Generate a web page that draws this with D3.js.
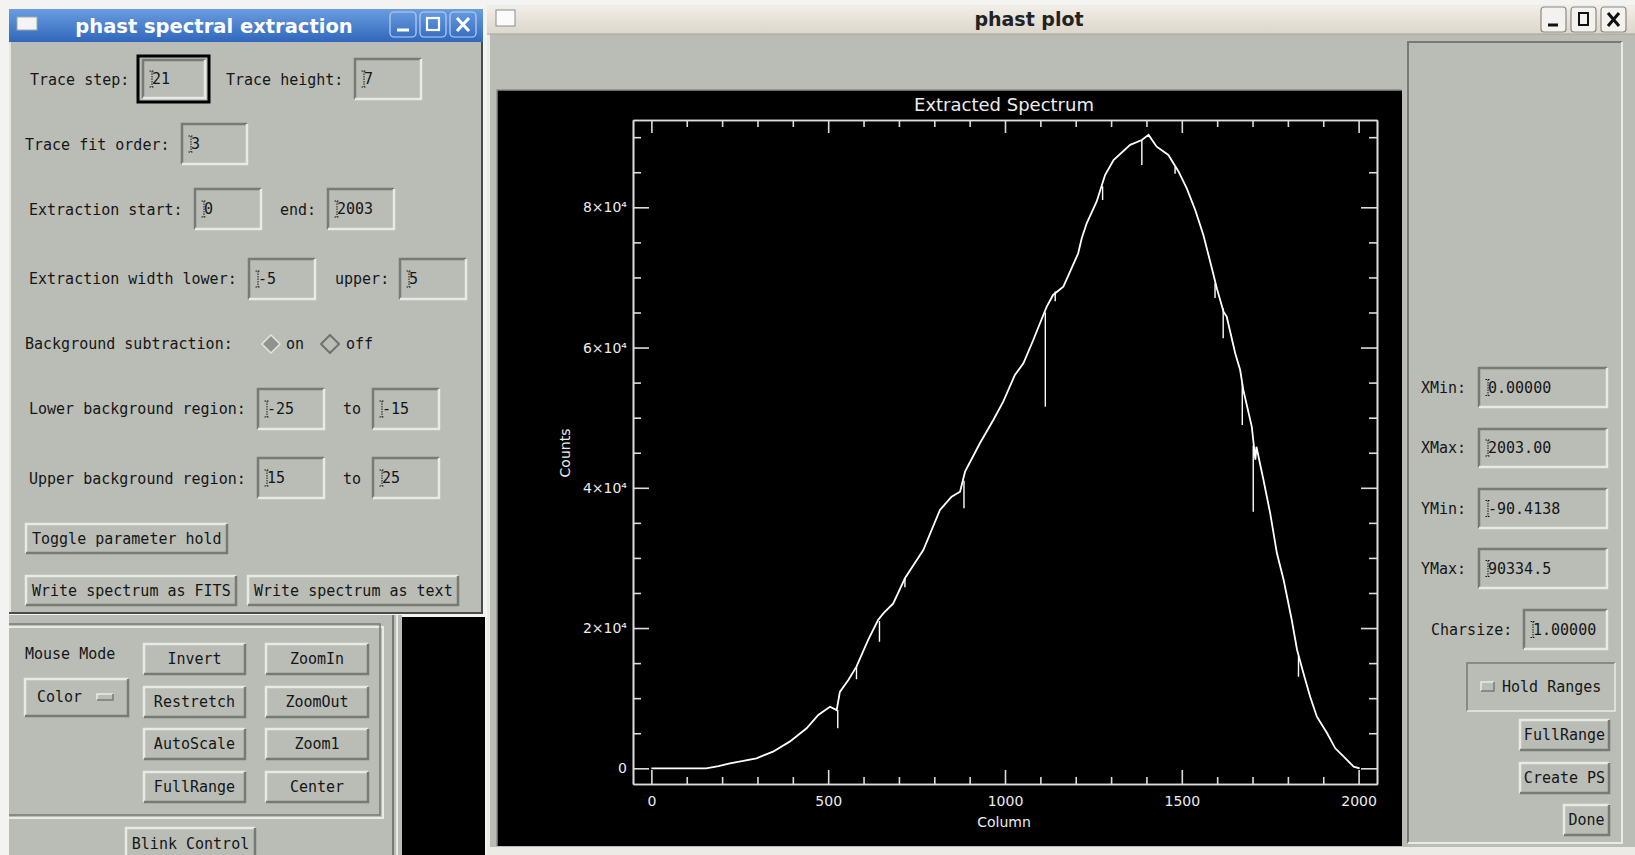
<!DOCTYPE html>
<html>
  <head>
    <meta charset="UTF-8">
    <script src="https://d3js.org/d3.v7.min.js" charset="utf-8"></script>
    <title>phast spectral extraction</title>
    <style>
      html, body { margin: 0; padding: 0; background: #f2f2f0; overflow: hidden; }
      text { font-family: "DejaVu Sans Mono", "Liberation Mono", monospace; }
      .gui { font-size: 15px; fill: #161616; }
      .idl { font-family: "DejaVu Sans", "Liberation Sans", sans-serif; fill: #ececec; }
    </style>
  </head>
  <body>
    <svg id="shot"></svg>
    <script type="text/javascript">

      // spectrum (column, counts)
      var columns = [0, 50, 100, 155, 190, 222, 260, 297, 344, 391,
                     439, 472, 505, 524, 533, 557, 580, 613, 641, 656,
                     684, 717, 769, 816, 849, 873, 887, 929, 967, 995,
                     1028, 1052, 1080, 1099, 1118, 1136, 1165, 1184, 1207, 1217,
                     1231, 1259, 1283, 1307, 1354, 1387, 1406, 1429, 1462, 1491,
                     1514, 1538, 1561, 1585, 1599, 1618, 1627, 1651, 1665, 1674,
                     1698, 1708, 1711, 1731, 1750, 1769, 1788, 1811, 1826, 1844,
                     1863, 1882, 1911, 1934, 1958, 1986, 2003];
      var counts = [0, 0, 0, 0, 300, 710, 1050, 1430, 2370, 3800,
                    5700, 7600, 8780, 8300, 10900, 12600, 14500, 18300, 21150, 22100,
                    23500, 27100, 31130, 36830, 38730, 39450, 42300, 46350, 49670, 52280,
                    56090, 57750, 61080, 63460, 65830, 67500, 68680, 70820, 73440, 75580,
                    77720, 80800, 84600, 86750, 88900, 89600, 90330, 88640, 87460, 85080,
                    82710, 79620, 76050, 71300, 68450, 65120, 64400, 59180, 56800, 53950,
                    48700, 44000, 45860, 41110, 36360, 30660, 26850, 21150, 16870, 13550,
                    10210, 7360, 4990, 2850, 1650, 230, 0];

      // absorption dips: column, level of the curve, bottom of the dip
      var dipColumns = [527, 580, 645, 717, 884, 1114, 1142, 1276, 1387, 1481, 1594, 1617, 1671, 1702, 1830];
      var dipTops    = [8300, 14500, 21000, 27100, 41000, 65000, 68000, 83000, 89600, 85790, 69160, 65600, 55000, 46000, 16000];
      var dipBottoms = [5700, 12700, 18050, 25800, 37080, 51570, 66600, 81040, 86030, 84800, 67060, 61320, 48960, 36600, 13060];

      var xTickValues = [0, 500, 1000, 1500, 2000];
      var xTickLabels = ["0", "500", "1000", "1500", "2000"];
      var xMinorValues = [100, 200, 300, 400, 600, 700, 800, 900, 1100, 1200, 1300, 1400, 1600, 1700, 1800, 1900];
      var yTickValues = [0, 20000, 40000, 60000, 80000];
      var yTickLabels = ["0", "2×10⁴", "4×10⁴", "6×10⁴", "8×10⁴"];
      var yMinorValues = [5000, 10000, 15000, 25000, 30000, 35000, 45000, 50000, 55000, 65000, 70000, 75000, 85000, 90000];

      var width = 1635,
          height = 855,
          gray = "#b9bdb6",
          light = "#e8eae6",
          dark = "#777b75",
          ink = "#161616";

      var svg = d3.select("#shot")
          .attr("width", width)
          .attr("height", height);

      var defs = svg.append("defs");
      var blue = defs.append("linearGradient").attr("id", "blue").attr("x1", 0).attr("y1", 0).attr("x2", 0).attr("y2", 1);
      blue.append("stop").attr("offset", 0).attr("stop-color", "#6a9de0");
      blue.append("stop").attr("offset", 1).attr("stop-color", "#3067bb");
      var beige = defs.append("linearGradient").attr("id", "beige").attr("x1", 0).attr("y1", 0).attr("x2", 0).attr("y2", 1);
      beige.append("stop").attr("offset", 0).attr("stop-color", "#f1eee8");
      beige.append("stop").attr("offset", 1).attr("stop-color", "#dcd6cb");

      svg.append("rect").attr("width", width).attr("height", height).attr("fill", "#f3f3f1");

      function bevel(g, x, y, w, h, raised, bw) {
        bw = bw || 2;
        g.append("rect").attr("x", x).attr("y", y).attr("width", w).attr("height", h).attr("fill", gray);
        g.append("path").attr("d", "M" + x + "," + (y + h) + "V" + y + "H" + (x + w))
          .attr("fill", "none").attr("stroke", raised ? light : dark).attr("stroke-width", bw);
        g.append("path").attr("d", "M" + x + "," + (y + h) + "H" + (x + w) + "V" + y)
          .attr("fill", "none").attr("stroke", raised ? dark : light).attr("stroke-width", bw);
      }

      function label(g, x, y, s, anchor) {
        g.append("text").attr("class", "gui").attr("x", x).attr("y", y).attr("dy", "0.35em")
          .attr("text-anchor", anchor || "start").text(s);
      }

      function field(g, x, y, w, h, value) {
        bevel(g, x, y, w, h, false, 2.5);
        var cx = x + 9, cy = y + h / 2;
        g.append("path").attr("d", "M" + (cx - 2.5) + "," + (cy - 8) + "H" + (cx + 2.5) + "M" + cx + "," + (cy - 8) +
            "V" + (cy + 8) + "M" + (cx - 2.5) + "," + (cy + 8) + "H" + (cx + 2.5))
          .attr("stroke", ink).attr("stroke-width", 1).attr("stroke-dasharray", "1.5,1").attr("fill", "none");
        label(g, cx, cy, value);
      }

      function button(g, x, y, w, h, s, centred) {
        bevel(g, x, y, w, h, true, 2.5);
        if (centred) label(g, x + w / 2, y + h / 2, s, "middle");
        else label(g, x + 6, y + h / 2, s);
      }

      // ---- left window: phast spectral extraction ----
      var left = svg.append("g");
      left.append("rect").attr("x", 9).attr("y", 42).attr("width", 474).attr("height", 571).attr("fill", gray);
      left.append("path").attr("d", "M10,613V42").attr("stroke", "#e4e6e2").attr("stroke-width", 2);
      left.append("path").attr("d", "M482,42V613H9").attr("stroke", "#4a4c49").attr("stroke-width", 2).attr("fill", "none");
      left.append("rect").attr("x", 9).attr("y", 9).attr("width", 474).attr("height", 33).attr("fill", "url(#blue)");
      left.append("rect").attr("x", 17).attr("y", 17).attr("width", 20).attr("height", 13).attr("fill", "#f4f4f4").attr("stroke", "#99aaaa").attr("stroke-width", 1);
      left.append("text").attr("x", 214).attr("y", 26).attr("dy", "0.35em").attr("text-anchor", "middle")
        .style("font-family", "'DejaVu Sans', sans-serif").style("font-weight", "bold").style("font-size", "19.5px")
        .attr("fill", "#ffffff").text("phast spectral extraction");
      [390, 420, 450].forEach(function(bx, i) {
        left.append("rect").attr("x", bx).attr("y", 12).attr("width", 26).attr("height", 25).attr("rx", 4)
          .attr("fill", "none").attr("stroke", "#b8d0f2").attr("stroke-width", 1.2);
        var gl = left.append("g").attr("stroke", "#ffffff").attr("fill", "none").attr("stroke-width", 3);
        if (i === 0) gl.append("path").attr("d", "M" + (bx + 7) + ",30H" + (bx + 19));
        if (i === 1) gl.append("rect").attr("x", bx + 7).attr("y", 18).attr("width", 12).attr("height", 12).attr("stroke-width", 2.2);
        if (i === 2) gl.append("path").attr("d", "M" + (bx + 7) + ",18L" + (bx + 19) + ",31M" + (bx + 19) + ",18L" + (bx + 7) + ",31");
      });

      left.append("rect").attr("x", 138).attr("y", 56).attr("width", 71).attr("height", 46)
        .attr("fill", "none").attr("stroke", "#000").attr("stroke-width", 3);
      label(left, 30, 80, "Trace step:");
      field(left, 143, 60, 62, 38, "21");
      label(left, 226, 80, "Trace height:");
      field(left, 355, 59, 66, 40, "7");
      label(left, 25, 145, "Trace fit order:");
      field(left, 182, 124, 65, 40, "3");
      label(left, 29, 210, "Extraction start:");
      field(left, 195, 189, 66, 40, "0");
      label(left, 280, 210, "end:");
      field(left, 328, 189, 66, 40, "2003");
      label(left, 29, 279, "Extraction width lower:");
      field(left, 249, 259, 66, 40, "-5");
      label(left, 335, 279, "upper:");
      field(left, 400, 259, 66, 40, "5");

      label(left, 25, 344, "Background subtraction:");
      left.append("path").attr("d", "M271,335L280,344L271,353L262,344Z").attr("fill", "#8f938c").attr("stroke", "#e2e4e0").attr("stroke-width", 1.5);
      label(left, 286, 344, "on");
      left.append("path").attr("d", "M330,335L339,344L330,353L321,344Z").attr("fill", gray).attr("stroke", "#6f736d").attr("stroke-width", 2);
      label(left, 346, 344, "off");

      label(left, 29, 409, "Lower background region:");
      field(left, 258, 389, 66, 40, "-25");
      label(left, 343, 409, "to");
      field(left, 373, 389, 66, 40, "-15");
      label(left, 29, 479, "Upper background region:");
      field(left, 258, 458, 66, 40, "15");
      label(left, 343, 479, "to");
      field(left, 373, 458, 66, 40, "25");

      button(left, 26, 524, 201, 29, "Toggle parameter hold");
      button(left, 26, 576, 210, 29, "Write spectrum as FITS");
      button(left, 248, 576, 210, 29, "Write spectrum as text");

      // ---- partly hidden main window below ----
      var low = svg.append("g");
      low.append("rect").attr("x", 9).attr("y", 615).attr("width", 393).attr("height", 240).attr("fill", gray);
      low.append("rect").attr("x", 402).attr("y", 617).attr("width", 83).attr("height", 238).attr("fill", "#000");
      low.append("path").attr("d", "M393,615V855").attr("stroke", dark).attr("stroke-width", 2);
      low.append("path").attr("d", "M397,615V855").attr("stroke", light).attr("stroke-width", 2);
      low.append("path").attr("d", "M9,627H383V818H9").attr("fill", "none").attr("stroke", light).attr("stroke-width", 2);
      low.append("path").attr("d", "M9,624H380V815H9").attr("fill", "none").attr("stroke", dark).attr("stroke-width", 1.5);
      label(low, 25, 654, "Mouse Mode");
      bevel(low, 25, 679, 103, 37, true, 2.5);
      label(low, 37, 697, "Color");
      bevel(low, 97, 694, 16, 6, true, 1.5);
      button(low, 144, 644, 101, 30, "Invert", true);
      button(low, 266, 644, 102, 30, "ZoomIn", true);
      button(low, 144, 687, 101, 30, "Restretch", true);
      button(low, 266, 687, 102, 30, "ZoomOut", true);
      button(low, 144, 729, 101, 30, "AutoScale", true);
      button(low, 266, 729, 102, 30, "Zoom1", true);
      button(low, 144, 772, 101, 30, "FullRange", true);
      button(low, 266, 772, 102, 30, "Center", true);
      button(low, 126, 828, 129, 32, "Blink Control", true);

      // ---- right window: phast plot ----
      var win = svg.append("g");
      win.append("rect").attr("x", 487).attr("y", 5).attr("width", 1148).attr("height", 850).attr("fill", "#ecebe6");
      win.append("rect").attr("x", 490).attr("y", 34).attr("width", 1145).attr("height", 813).attr("fill", gray);
      win.append("rect").attr("x", 487).attr("y", 6).attr("width", 1148).attr("height", 28).attr("fill", "url(#beige)");
      win.append("path").attr("d", "M487,34H1635").attr("stroke", "#a8a498").attr("stroke-width", 1);
      win.append("rect").attr("x", 496).attr("y", 10).attr("width", 19).attr("height", 16).attr("fill", "#fbfbfb").attr("stroke", "#8c8c8c");
      win.append("text").attr("x", 1029).attr("y", 19).attr("dy", "0.35em").attr("text-anchor", "middle")
        .style("font-family", "'DejaVu Sans', sans-serif").style("font-weight", "bold").style("font-size", "19px")
        .attr("fill", "#222").text("phast plot");
      [1541, 1571, 1601].forEach(function(bx, i) {
        win.append("rect").attr("x", bx).attr("y", 7).attr("width", 25).attr("height", 25).attr("rx", 3)
          .attr("fill", "#f4f2ee").attr("stroke", "#8d897f").attr("stroke-width", 1.2);
        var gl = win.append("g").attr("stroke", "#111").attr("fill", "none").attr("stroke-width", 3);
        if (i === 0) gl.append("path").attr("d", "M" + (bx + 7) + ",25H" + (bx + 17));
        if (i === 1) gl.append("rect").attr("x", bx + 8).attr("y", 13).attr("width", 9).attr("height", 12).attr("stroke-width", 2);
        if (i === 2) gl.append("path").attr("d", "M" + (bx + 7) + ",13L" + (bx + 18) + ",26M" + (bx + 18) + ",13L" + (bx + 7) + ",26");
      });

      // right control panel
      var side = svg.append("g");
      side.append("path").attr("d", "M1408,843V42H1622").attr("fill", "none").attr("stroke", dark).attr("stroke-width", 2);
      side.append("path").attr("d", "M1408,843H1622V42").attr("fill", "none").attr("stroke", light).attr("stroke-width", 2);
      label(side, 1421, 388, "XMin:");
      field(side, 1479, 368, 128, 39, "0.00000");
      label(side, 1421, 448, "XMax:");
      field(side, 1479, 429, 128, 38, "2003.00");
      label(side, 1421, 509, "YMin:");
      field(side, 1479, 489, 128, 39, "-90.4138");
      label(side, 1421, 569, "YMax:");
      field(side, 1479, 549, 128, 39, "90334.5");
      label(side, 1431, 630, "Charsize:");
      field(side, 1524, 610, 83, 39, "1.00000");
      side.append("path").attr("d", "M1467,711V663H1615").attr("fill", "none").attr("stroke", dark).attr("stroke-width", 1.5);
      side.append("path").attr("d", "M1467,711H1615V663").attr("fill", "none").attr("stroke", light).attr("stroke-width", 1.5);
      bevel(side, 1481, 682, 13, 9, true, 1.5);
      label(side, 1502, 687, "Hold Ranges");
      button(side, 1520, 720, 89, 30, "FullRange", true);
      button(side, 1520, 763, 89, 30, "Create PS", true);
      button(side, 1564, 805, 45, 30, "Done", true);

      // ---- the IDL plot ----
      svg.append("rect").attr("x", 497).attr("y", 90).attr("width", 905).attr("height", 756).attr("fill", "#000");
      svg.append("path").attr("d", "M497,846V90H1402").attr("fill", "none").attr("stroke", "#8a8d88").attr("stroke-width", 1.5);

      var x = d3.scaleLinear().domain([-52, 2052]).range([633, 1377]);
      var y = d3.scaleLinear().domain([-2240, 92450]).range([784, 120]);

      var plot = svg.append("g");

      function styleAxis(g) {
        g.selectAll(".domain").attr("stroke", "#dcdcdc").attr("stroke-width", 1.6);
        g.selectAll(".tick line").attr("stroke", "#dcdcdc").attr("stroke-width", 1.6);
        g.selectAll(".tick text").attr("class", "idl").style("font-size", "14px").attr("fill", "#ececec");
      }

      plot.append("g").attr("transform", "translate(0,784)")
        .call(d3.axisBottom(x).tickValues(xTickValues).tickSize(-14).tickSizeOuter(0).tickPadding(12)
          .tickFormat(function(d, i) { return xTickLabels[i]; }))
        .call(styleAxis);
      plot.append("g").attr("transform", "translate(0,784)")
        .call(d3.axisBottom(x).tickValues(xMinorValues).tickSize(-7).tickSizeOuter(0).tickFormat(""))
        .call(styleAxis);
      plot.append("g").attr("transform", "translate(0,120)")
        .call(d3.axisTop(x).tickValues(xTickValues).tickSize(-13).tickSizeOuter(0).tickFormat(""))
        .call(styleAxis);
      plot.append("g").attr("transform", "translate(0,120)")
        .call(d3.axisTop(x).tickValues(xMinorValues).tickSize(-7).tickSizeOuter(0).tickFormat(""))
        .call(styleAxis);
      plot.append("g").attr("transform", "translate(633,0)")
        .call(d3.axisLeft(y).tickValues(yTickValues).tickSize(-16).tickSizeOuter(0).tickPadding(6)
          .tickFormat(function(d, i) { return yTickLabels[i]; }))
        .call(styleAxis);
      plot.append("g").attr("transform", "translate(633,0)")
        .call(d3.axisLeft(y).tickValues(yMinorValues).tickSize(-8).tickSizeOuter(0).tickFormat(""))
        .call(styleAxis);
      plot.append("g").attr("transform", "translate(1377,0)")
        .call(d3.axisRight(y).tickValues(yTickValues).tickSize(-16).tickSizeOuter(0).tickFormat(""))
        .call(styleAxis);
      plot.append("g").attr("transform", "translate(1377,0)")
        .call(d3.axisRight(y).tickValues(yMinorValues).tickSize(-8).tickSizeOuter(0).tickFormat(""))
        .call(styleAxis);

      plot.append("text").attr("class", "idl").attr("x", 1004).attr("y", 105).attr("dy", "0.35em")
        .attr("text-anchor", "middle").style("font-size", "18px").text("Extracted Spectrum");
      plot.append("text").attr("class", "idl").attr("x", 1004).attr("y", 822).attr("dy", "0.35em")
        .attr("text-anchor", "middle").style("font-size", "14px").text("Column");
      plot.append("text").attr("class", "idl").attr("transform", "translate(565,453) rotate(-90)").attr("dy", "0.35em")
        .attr("text-anchor", "middle").style("font-size", "14px").text("Counts");

      var line = d3.line()
          .x(function(d) { return x(d[0]); })
          .y(function(d) { return y(d[1]); });

      plot.append("path")
        .datum(d3.zip(columns, counts))
        .attr("d", line)
        .attr("fill", "none")
        .attr("stroke", "#ffffff")
        .attr("stroke-width", 1.8)
        .attr("stroke-linejoin", "miter");

      plot.selectAll(".dip")
        .data(d3.range(dipColumns.length))
        .enter().append("line")
        .attr("class", "dip")
        .attr("x1", function(i) { return x(dipColumns[i]); })
        .attr("x2", function(i) { return x(dipColumns[i]); })
        .attr("y1", function(i) { return y(dipTops[i]); })
        .attr("y2", function(i) { return y(dipBottoms[i]); })
        .attr("stroke", "#ffffff")
        .attr("stroke-width", 1.4);

    </script>
  </body>
</html>
